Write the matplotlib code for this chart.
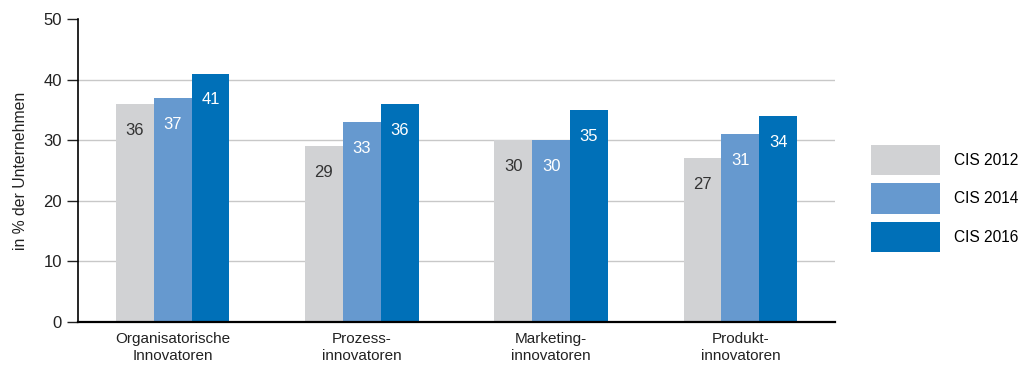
import matplotlib.pyplot as plt
import numpy as np

# Anteil innovierender Unternehmen nach Innovationsart
kategorien = ["Organisatorische\nInnovatoren", "Prozess-\ninnovatoren",
              "Marketing-\ninnovatoren", "Produkt-\ninnovatoren"]
jahre = ["CIS 2012", "CIS 2014", "CIS 2016"]
cis2012 = [36, 29, 30, 27]
cis2014 = [37, 33, 30, 31]
cis2016 = [41, 36, 35, 34]

farben = ["#D1D2D4", "#6699CF", "#0070B8"]
textfarben = ["#333333", "white", "white"]

plt.rcParams['font.family'] = ['Liberation Sans Narrow', 'Liberation Sans', 'DejaVu Sans']
plt.rcParams['font.size'] = 11

fig = plt.figure(figsize=(10.19, 3.67), dpi=100)
ax = fig.add_axes([0.0765, 0.1226, 0.7429, 0.8256])

x = np.arange(len(kategorien))
breite = 0.2
for i, (werte, name) in enumerate(zip([cis2012, cis2014, cis2016], jahre)):
    pos = x + (i - 1) * breite
    ax.bar(pos, werte, breite, color=farben[i], label=name, zorder=2)
    for xp, v in zip(pos, werte):
        ax.annotate(str(v), (xp, v), xytext=(0, -19), textcoords="offset points",
                    ha="center", va="center", color=textfarben[i], fontsize=12)

ax.set_xlim(-0.5, 3.5)
ax.set_ylim(0, 50)
ax.set_yticks([0, 10, 20, 30, 40, 50])
ax.set_xticks(x)
ax.set_xticklabels(kategorien, color="#222222", fontsize=11, linespacing=1.3)
ax.tick_params(axis="x", length=0, pad=7)
ax.tick_params(axis="y", length=8, width=1, colors="#222222", labelsize=12)

for y in [10, 20, 30, 40]:
    ax.axhline(y, color="#C8C8C8", lw=1, zorder=1)

ax.spines["top"].set_visible(False)
ax.spines["right"].set_visible(False)
ax.spines["left"].set_linewidth(1.2)
ax.spines["bottom"].set_linewidth(1.6)
ax.set_ylabel("in % der Unternehmen", color="#222222", fontsize=11.3, labelpad=11)

fig.legend(loc="center left", bbox_to_anchor=(0.855, 0.459), frameon=False,
           handlelength=4.4, handleheight=2.65, labelspacing=0.5,
           handletextpad=0.9, borderpad=0, borderaxespad=0, fontsize=11.2)

plt.savefig("out.png", dpi=100)
